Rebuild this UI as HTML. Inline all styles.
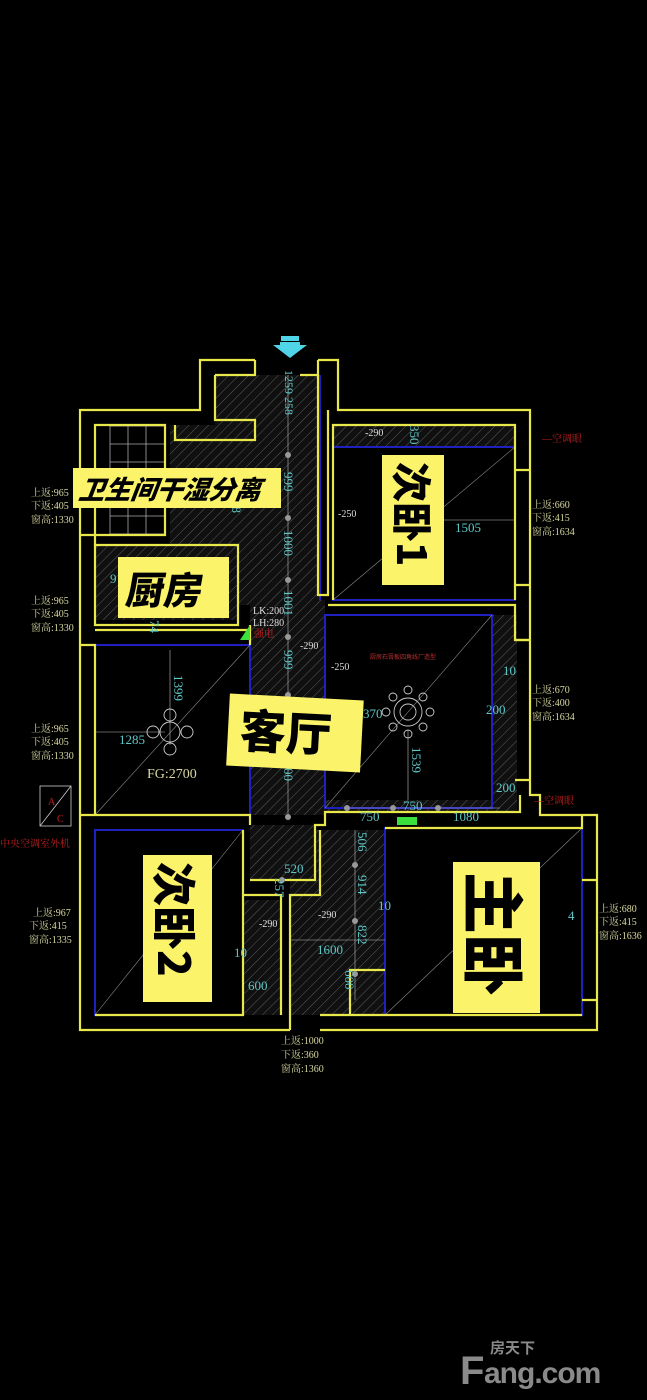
<!DOCTYPE html>
<html><head><meta charset="utf-8"><style>
html,body{margin:0;padding:0;background:#000;width:647px;height:1400px;overflow:hidden}
svg{display:block}
.y{fill:none;stroke:#e8e84a;stroke-width:2.2}
.b{fill:none;stroke:#2020c0;stroke-width:2}
.c{fill:#5ec8c8;font-family:"Liberation Serif",serif;font-size:13px}
.t{fill:#d8d8a0;font-family:"Liberation Serif","Noto Serif CJK SC",serif;font-size:10px}
.r{fill:#c02020;font-family:"Liberation Serif","Noto Serif CJK SC",serif;font-size:10px}
.lab{font-family:"Noto Sans CJK SC",sans-serif;font-weight:900;fill:#000}
.g{stroke:#888;stroke-width:0.6;fill:none}
</style></head><body>
<svg width="647" height="1400" viewBox="0 0 647 1400">
<defs>
<pattern id="h" width="7" height="7" patternUnits="userSpaceOnUse" patternTransform="rotate(45)">
<rect width="7" height="7" fill="#101010"/><line x1="0" y1="0" x2="0" y2="7" stroke="#5a5a5a" stroke-width="1"/></pattern>
</defs>
<g fill="url(#h)">
<rect x="215" y="375" width="105" height="230"/>
<rect x="170" y="425" width="60" height="120"/>
<rect x="333" y="425" width="182" height="22"/>
<rect x="95" y="545" width="143" height="75"/>
<rect x="250" y="600" width="75" height="215"/>
<rect x="492" y="615" width="25" height="195"/>
<rect x="325" y="800" width="190" height="12"/>
<rect x="250" y="825" width="65" height="55"/>
<rect x="243" y="900" width="38" height="115"/>
<rect x="290" y="830" width="95" height="185"/>
</g>
<g stroke="#aaa" stroke-width="0.8" fill="none">
<rect x="110" y="426" width="55" height="108"/>
<line x1="110" y1="444" x2="165" y2="444"/><line x1="110" y1="462" x2="165" y2="462"/><line x1="110" y1="480" x2="165" y2="480"/><line x1="110" y1="498" x2="165" y2="498"/><line x1="110" y1="516" x2="165" y2="516"/>
<line x1="128" y1="426" x2="128" y2="534"/><line x1="146" y1="426" x2="146" y2="534"/>
</g>
<rect class="b" x="333" y="447" width="182" height="153"/>
<rect class="b" x="325" y="615" width="167" height="193"/>
<rect class="b" x="95" y="645" width="155" height="170"/>
<rect class="b" x="95" y="830" width="148" height="185"/>
<rect class="b" x="385" y="828" width="197" height="187"/>
<line class="b" x1="320" y1="375" x2="320" y2="600"/>
<g class="g">
<line x1="333" y1="600" x2="515" y2="447"/>
<line x1="95" y1="815" x2="250" y2="645"/>
<line x1="95" y1="1015" x2="243" y2="830"/>
<line x1="385" y1="1015" x2="582" y2="828"/>
<line x1="325" y1="808" x2="492" y2="615"/>
<line x1="290" y1="1015" x2="290" y2="1030"/>
</g>
<path class="y" d="M255,360 H200 V410 H80 V1030 H290 M320,1030 H597 V815 H540 V795 H530 V410 H338 V360 H318"/>
<path class="y" d="M215,375 V420 H255 V440 H175 V425 M318,375 V595 H328 V410"/>
<path class="y" d="M255,360 V375 H215 M318,360 V375 H300"/>
<path class="y" d="M95,425 H165 V535 H95 Z"/>
<path class="y" d="M95,545 H238 V625 H95 Z"/>
<path class="y" d="M95,535 V545 M80,535 H95"/>
<path class="y" d="M328,605 H515 V640 H530 M515,600 V425 H333 V600"/>
<path class="y" d="M95,630 H250 M250,625 V645"/>
<path class="y" d="M80,645 H95 V815 H80 M95,815 H250 V825 M250,880 H315 V825 H325 V812 H520 V795 M243,830 V1015 H95 M243,895 H281 V1015 M290,1030 V895 H320 V830 M385,828 H582 V815"/>
<path class="y" d="M320,1015 H582 M385,970 H350 V1015"/>
<path class="y" d="M515,470 H530 M515,585 H530 M582,880 H597 M582,1000 H597 M515,640 H530 M515,780 H530"/>
<rect x="281" y="336" width="18" height="5" fill="#4fd4e8"/>
<path d="M273,345 H307 L290,358 Z" fill="#4fd4e8"/>
<rect x="280" y="342" width="20" height="5" fill="#4fd4e8"/>
<g stroke="#ccc" stroke-width="0.9" fill="none">
<circle cx="170" cy="732" r="10"/><circle cx="170" cy="715" r="6"/><circle cx="170" cy="749" r="6"/><circle cx="153" cy="732" r="6"/><circle cx="187" cy="732" r="6"/>
<circle cx="408" cy="712" r="14"/><circle cx="408" cy="712" r="8"/>
<circle cx="408" cy="690" r="4"/><circle cx="408" cy="734" r="4"/><circle cx="386" cy="712" r="4"/><circle cx="430" cy="712" r="4"/>
<circle cx="393" cy="697" r="4"/><circle cx="423" cy="697" r="4"/><circle cx="393" cy="727" r="4"/><circle cx="423" cy="727" r="4"/>
</g>
<g stroke="#bbb" stroke-width="0.6">
<line x1="288" y1="375" x2="288" y2="815"/>
<line x1="344" y1="808" x2="500" y2="808"/>
<line x1="355" y1="830" x2="355" y2="1000"/>
<line x1="290" y1="940" x2="385" y2="940"/>
<line x1="408" y1="730" x2="408" y2="800"/>
<line x1="170" y1="650" x2="170" y2="745"/>
<line x1="95" y1="732" x2="165" y2="732"/>
<line x1="440" y1="520" x2="515" y2="520"/>
</g>
<g fill="#999"><circle cx="288" cy="455" r="3"/><circle cx="288" cy="518" r="3"/><circle cx="288" cy="580" r="3"/><circle cx="288" cy="637" r="3"/><circle cx="288" cy="695" r="3"/><circle cx="288" cy="757" r="3"/><circle cx="288" cy="817" r="3"/><circle cx="347" cy="808" r="3"/><circle cx="393" cy="808" r="3"/><circle cx="438" cy="808" r="3"/><circle cx="282" cy="880" r="3"/><circle cx="355" cy="865" r="3"/><circle cx="355" cy="921" r="3"/><circle cx="355" cy="974" r="3"/></g>
<rect x="397" y="817" width="20" height="8" fill="#3ce03c"/>
<path d="M240,640 L250,625 V640 Z" fill="#3ce03c"/>
<g class="c">
<text x="455" y="532">1505</text><text x="119" y="744">1285</text><text x="503" y="675">10</text><text x="486" y="714">200</text><text x="496" y="792">200</text>
<text x="403" y="810">750</text><text x="360" y="821">750</text><text x="453" y="821">1080</text><text x="363" y="718">370</text>
<text x="284" y="873">520</text><text x="317" y="954">1600</text><text x="378" y="910">10</text><text x="248" y="990">600</text><text x="234" y="957">10</text>
<text x="205" y="923">0</text><text x="568" y="920">4</text><text x="110" y="583">9</text>
<text transform="translate(285,370) rotate(90)" font-size="12">1259 258</text>
<text transform="translate(284,472) rotate(90)">999</text>
<text transform="translate(284,530) rotate(90)">1000</text>
<text transform="translate(284,590) rotate(90)">1001</text>
<text transform="translate(284,650) rotate(90)">999</text>
<text transform="translate(284,755) rotate(90)">1000</text>
<text transform="translate(174,675) rotate(90)">1399</text>
<text transform="translate(412,747) rotate(90)">1539</text>
<text transform="translate(410,425) rotate(90)">350</text>
<text transform="translate(358,832) rotate(90)">506</text>
<text transform="translate(358,875) rotate(90)">914</text>
<text transform="translate(358,925) rotate(90)">822</text>
<text transform="translate(345,970) rotate(90)">600</text>
<text transform="translate(275,878) rotate(90)">257</text>
<text transform="translate(150,620) rotate(90)">74</text>
<text transform="translate(232,500) rotate(90)">78</text>
</g>
<text x="147" y="778" fill="#d8d8a0" font-family="Liberation Serif,serif" font-size="14">FG:2700</text>
<g fill="#ddd" font-family="Liberation Serif,serif" font-size="10">
<text x="365" y="436">-290</text><text x="338" y="517">-250</text><text x="300" y="649">-290</text><text x="331" y="670">-250</text>
<text x="259" y="927">-290</text><text x="318" y="918">-290</text>
<text x="253" y="614">LK:200</text><text x="253" y="626">LH:280</text>
</g>
<text x="254" y="637" class="r">强电</text>
<text x="370" y="659" fill="#c03030" font-size="6" font-family="Noto Sans CJK SC,sans-serif">厨房石膏板四角线厂造型</text>
<text x="542" y="442" class="r">—空调眼</text><text x="534" y="804" class="r">—空调眼</text>
<g class="t">
<text x="31" y="496">上返:965</text><text x="31" y="509">下返:405</text><text x="31" y="523">窗高:1330</text>
<text x="31" y="604">上返:965</text><text x="31" y="617">下返:405</text><text x="31" y="631">窗高:1330</text>
<text x="31" y="732">上返:965</text><text x="31" y="745">下返:405</text><text x="31" y="759">窗高:1330</text>
<text x="33" y="916">上返:967</text><text x="29" y="929">下返:415</text><text x="29" y="943">窗高:1335</text>
<text x="532" y="508">上返:660</text><text x="532" y="521">下返:415</text><text x="532" y="535">窗高:1634</text>
<text x="532" y="693">上返:670</text><text x="532" y="706">下返:400</text><text x="532" y="720">窗高:1634</text>
<text x="599" y="912">上返:680</text><text x="599" y="925">下返:415</text><text x="599" y="939">窗高:1636</text>
<text x="281" y="1044">上返:1000</text><text x="281" y="1058">下返:360</text><text x="281" y="1072">窗高:1360</text>
</g>
<rect x="40" y="786" width="31" height="40" fill="none" stroke="#ccc" stroke-width="0.8"/>
<line x1="40" y1="826" x2="71" y2="786" stroke="#ccc" stroke-width="0.8"/>
<text x="48" y="805" class="r">A</text><text x="57" y="822" class="r">C</text>
<text x="0" y="847" class="r">中央空调室外机</text>
<rect x="73" y="468" width="208" height="40" fill="#fbf36a"/>
<text x="80" y="499" class="lab" font-size="26" font-style="italic" transform="skewX(-8) translate(68,0)">卫生间干湿分离</text>
<rect x="118" y="557" width="111" height="61" fill="#fbf36a"/>
<text x="126" y="604" class="lab" font-size="38" transform="skewX(-10) translate(105,0)">厨房</text>
<rect x="382" y="455" width="62" height="130" fill="#fbf36a"/>
<text transform="translate(397,462) rotate(90)" class="lab" font-size="40">次卧1</text>
<g transform="rotate(3 295 732)"><rect x="228" y="697" width="134" height="72" fill="#fbf36a"/>
<text x="240" y="750" class="lab" font-size="46">客厅</text></g>
<rect x="143" y="855" width="69" height="147" fill="#fbf36a"/>
<text transform="translate(158,862) rotate(90)" class="lab" font-size="44">次卧2</text>
<rect x="453" y="862" width="87" height="151" fill="#fbf36a"/>
<text transform="translate(470,872) rotate(90)" class="lab" font-size="62">主卧</text>
<text x="490" y="1353" fill="#8a8a8a" font-family="Noto Sans CJK SC,sans-serif" font-size="15" font-weight="700">房天下</text>
<text x="460" y="1384" fill="#8a8a8a" font-family="Liberation Sans,sans-serif" font-size="40" font-weight="700" letter-spacing="-2">F</text>
<text x="484" y="1383" fill="#8a8a8a" font-family="Liberation Sans,sans-serif" font-size="30" font-weight="700" letter-spacing="-1">ang.com</text>
</svg>
</body></html>
